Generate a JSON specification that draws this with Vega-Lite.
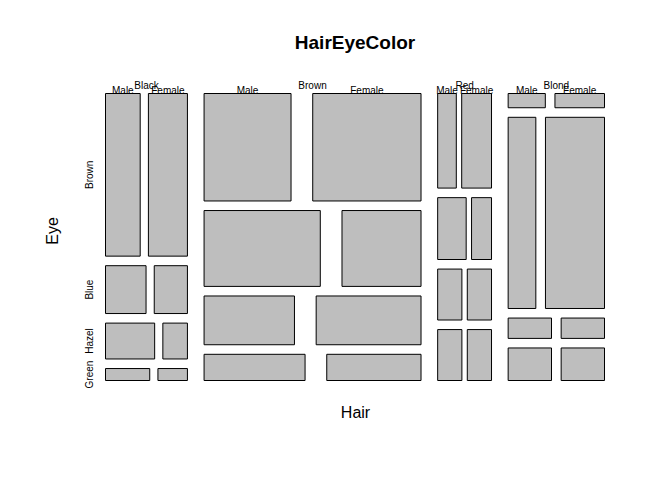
{
  "$schema": "https://vega.github.io/schema/vega-lite/v6.json",
  "autosize": {"type": "none"},
  "width": 499,
  "height": 287,
  "padding": {"left": 105.5, "top": 93.5, "right": 67.5, "bottom": 99.5},
  "background": "white",
  "title": {"text": "HairEyeColor", "font": "Liberation Sans", "fontSize": 19, "fontWeight": "bold", "color": "black", "anchor": "middle", "frame": "group", "baseline": "alphabetic", "offset": 13},
  "config": {"view": {"stroke": null}, "font": "Liberation Sans"},
  "data": {"values": [
    {"Hair": "Black", "Eye": "Brown", "Sex": "Male", "n": 32},
    {"Hair": "Brown", "Eye": "Brown", "Sex": "Male", "n": 53},
    {"Hair": "Red", "Eye": "Brown", "Sex": "Male", "n": 10},
    {"Hair": "Blond", "Eye": "Brown", "Sex": "Male", "n": 3},
    {"Hair": "Black", "Eye": "Blue", "Sex": "Male", "n": 11},
    {"Hair": "Brown", "Eye": "Blue", "Sex": "Male", "n": 50},
    {"Hair": "Red", "Eye": "Blue", "Sex": "Male", "n": 10},
    {"Hair": "Blond", "Eye": "Blue", "Sex": "Male", "n": 30},
    {"Hair": "Black", "Eye": "Hazel", "Sex": "Male", "n": 10},
    {"Hair": "Brown", "Eye": "Hazel", "Sex": "Male", "n": 25},
    {"Hair": "Red", "Eye": "Hazel", "Sex": "Male", "n": 7},
    {"Hair": "Blond", "Eye": "Hazel", "Sex": "Male", "n": 5},
    {"Hair": "Black", "Eye": "Green", "Sex": "Male", "n": 3},
    {"Hair": "Brown", "Eye": "Green", "Sex": "Male", "n": 15},
    {"Hair": "Red", "Eye": "Green", "Sex": "Male", "n": 7},
    {"Hair": "Blond", "Eye": "Green", "Sex": "Male", "n": 8},
    {"Hair": "Black", "Eye": "Brown", "Sex": "Female", "n": 36},
    {"Hair": "Brown", "Eye": "Brown", "Sex": "Female", "n": 66},
    {"Hair": "Red", "Eye": "Brown", "Sex": "Female", "n": 16},
    {"Hair": "Blond", "Eye": "Brown", "Sex": "Female", "n": 4},
    {"Hair": "Black", "Eye": "Blue", "Sex": "Female", "n": 9},
    {"Hair": "Brown", "Eye": "Blue", "Sex": "Female", "n": 34},
    {"Hair": "Red", "Eye": "Blue", "Sex": "Female", "n": 7},
    {"Hair": "Blond", "Eye": "Blue", "Sex": "Female", "n": 64},
    {"Hair": "Black", "Eye": "Hazel", "Sex": "Female", "n": 5},
    {"Hair": "Brown", "Eye": "Hazel", "Sex": "Female", "n": 29},
    {"Hair": "Red", "Eye": "Hazel", "Sex": "Female", "n": 7},
    {"Hair": "Blond", "Eye": "Hazel", "Sex": "Female", "n": 5},
    {"Hair": "Black", "Eye": "Green", "Sex": "Female", "n": 2},
    {"Hair": "Brown", "Eye": "Green", "Sex": "Female", "n": 14},
    {"Hair": "Red", "Eye": "Green", "Sex": "Female", "n": 7},
    {"Hair": "Blond", "Eye": "Green", "Sex": "Female", "n": 8}
  ]},
  "transform": [
    {"calculate": "indexof(['Black','Brown','Red','Blond'], datum.Hair)", "as": "hi"},
    {"calculate": "indexof(['Brown','Blue','Hazel','Green'], datum.Eye)", "as": "ei"},
    {"calculate": "indexof(['Male','Female'], datum.Sex)", "as": "si"},
    {"joinaggregate": [{"op": "sum", "field": "n", "as": "total"}]},
    {"joinaggregate": [{"op": "sum", "field": "n", "as": "hairN"}], "groupby": ["Hair"]},
    {"joinaggregate": [{"op": "sum", "field": "n", "as": "cellN"}], "groupby": ["Hair", "Eye"]},
    {"window": [{"op": "sum", "field": "n", "as": "cumHair"}], "sort": [{"field": "hi"}]},
    {"window": [{"op": "sum", "field": "n", "as": "cumEye"}], "groupby": ["Hair"], "sort": [{"field": "ei"}]},
    {"window": [{"op": "sum", "field": "n", "as": "cumSex"}], "groupby": ["Hair", "Eye"], "sort": [{"field": "si"}]},
    {"calculate": "datum.hi*0.1/3 + 0.9*(datum.cumHair - datum.hairN)/datum.total", "as": "hx1"},
    {"calculate": "0.9*datum.hairN/datum.total", "as": "hw"},
    {"calculate": "datum.ei*0.1/3 + 0.9*(datum.cumEye - datum.cellN)/datum.hairN", "as": "y1"},
    {"calculate": "datum.y1 + 0.9*datum.cellN/datum.hairN", "as": "y2"},
    {"calculate": "datum.hx1 + datum.si*0.1*datum.hw + 0.9*datum.hw*(datum.cumSex - datum.n)/datum.cellN", "as": "x1"},
    {"calculate": "datum.x1 + 0.9*datum.hw*datum.n/datum.cellN", "as": "x2"},
    {"calculate": "datum.hx1 + datum.hw/2", "as": "hxm"},
    {"calculate": "(datum.x1 + datum.x2)/2", "as": "xm"},
    {"calculate": "(datum.y1 + datum.y2)/2", "as": "ym"}
  ],
  "layer": [
    {
      "mark": {"type": "rect", "fill": "#BEBEBE", "stroke": "black", "strokeWidth": 1},
      "encoding": {
        "x": {"field": "x1", "type": "quantitative", "scale": {"domain": [0, 1], "nice": false, "zero": false},
              "axis": {"title": "Hair", "labels": false, "ticks": false, "domain": false, "grid": false,
                       "titleFont": "Liberation Sans", "titleFontSize": 16, "titleFontWeight": "normal", "titleColor": "black",
                       "titleBaseline": "alphabetic", "titleAlign": "center", "titleX": 249.5, "titleY": 37}},
        "x2": {"field": "x2"},
        "y": {"field": "y1", "type": "quantitative", "scale": {"domain": [0, 1], "nice": false, "zero": false, "reverse": true},
              "axis": {"title": "Eye", "labels": false, "ticks": false, "domain": false, "grid": false,
                       "titleFont": "Liberation Sans", "titleFontSize": 16, "titleFontWeight": "normal", "titleColor": "black",
                       "titleBaseline": "alphabetic", "titleAlign": "center", "titleAngle": 270, "titleX": -48, "titleY": 137}},
        "y2": {"field": "y2"}
      }
    },
    {
      "transform": [{"filter": "datum.ei == 0 && datum.si == 0"}],
      "mark": {"type": "text", "font": "Liberation Sans", "fontSize": 10, "color": "black", "align": "center", "baseline": "alphabetic", "dy": -5},
      "encoding": {
        "x": {"field": "hxm", "type": "quantitative", "scale": {"domain": [0, 1], "nice": false, "zero": false}},
        "y": {"datum": 0, "type": "quantitative", "scale": {"domain": [0, 1], "nice": false, "zero": false, "reverse": true}},
        "text": {"field": "Hair"}
      }
    },
    {
      "transform": [{"filter": "datum.ei == 0"}],
      "mark": {"type": "text", "font": "Liberation Sans", "fontSize": 10, "color": "black", "align": "center", "baseline": "alphabetic", "dy": 0},
      "encoding": {
        "x": {"field": "xm", "type": "quantitative", "scale": {"domain": [0, 1], "nice": false, "zero": false}},
        "y": {"datum": 0, "type": "quantitative", "scale": {"domain": [0, 1], "nice": false, "zero": false, "reverse": true}},
        "text": {"field": "Sex"}
      }
    },
    {
      "transform": [{"filter": "datum.hi == 0 && datum.si == 0"}],
      "mark": {"type": "text", "font": "Liberation Sans", "fontSize": 10, "color": "black", "align": "center", "baseline": "alphabetic", "angle": 270, "dy": -13},
      "encoding": {
        "x": {"datum": 0, "type": "quantitative", "scale": {"domain": [0, 1], "nice": false, "zero": false}},
        "y": {"field": "ym", "type": "quantitative", "scale": {"domain": [0, 1], "nice": false, "zero": false, "reverse": true}},
        "text": {"field": "Eye"}
      }
    }
  ]
}
